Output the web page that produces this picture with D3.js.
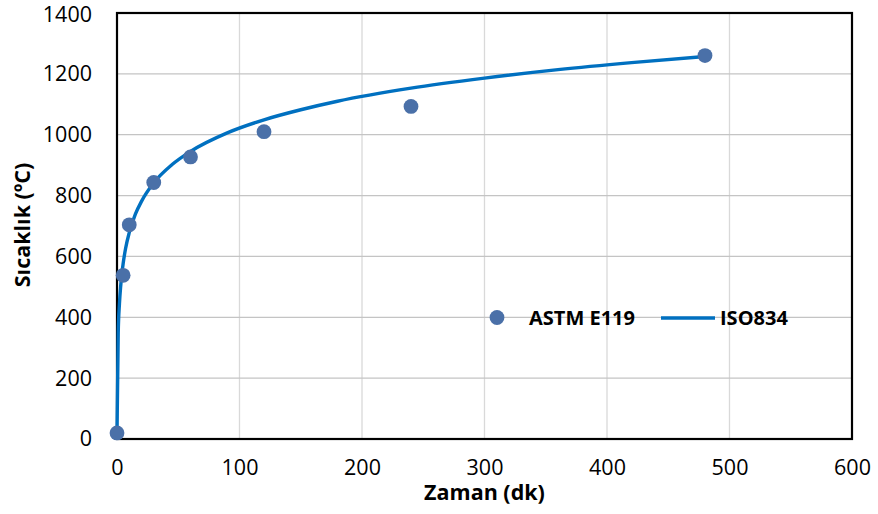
<!DOCTYPE html>
<html>
<head>
<meta charset="utf-8">
<script src="https://cdn.jsdelivr.net/npm/d3@7"></script>
<style>
  body { margin: 0; background: #fff; }
  text { font-family: "Open Sans", "Noto Sans", sans-serif; fill: #000; }
</style>
</head>
<body>
<script>
// ASTM E119 points (minutes, degC)
const astmTime = [0, 5, 10, 30, 60, 120, 240, 480];
const astmTemp = [20, 538, 704, 843, 927, 1010, 1093, 1260];

// ISO834 curve
const isoTime = [0, 1, 2, 3, 4, 5, 7, 10, 15, 20, 30, 45, 60, 90, 120, 150, 180, 240, 300, 360, 420, 480];
const isoTemp = [20, 349, 445, 502, 544, 576, 626, 678, 739, 781, 842, 902, 945, 1006, 1049, 1082, 1110, 1153, 1186, 1214, 1237, 1257];

const xTicks = [0, 100, 200, 300, 400, 500, 600];
const yTicks = [0, 200, 400, 600, 800, 1000, 1200, 1400];

const W = 878, H = 514;
const margin = { top: 13, right: 26, bottom: 75, left: 117 };
const width = W - margin.left - margin.right;
const height = H - margin.top - margin.bottom;

const svg = d3.select("body").append("svg")
  .attr("width", W)
  .attr("height", H);

const g = svg.append("g")
  .attr("transform", `translate(${margin.left},${margin.top})`);

const x = d3.scaleLinear().domain([0, 600]).range([0, width]);
const y = d3.scaleLinear().domain([0, 1400]).range([height, 0]);

// gridlines
g.selectAll(".vgrid").data(xTicks.slice(1, -1)).enter().append("line")
  .attr("x1", d => x(d)).attr("x2", d => x(d))
  .attr("y1", 0).attr("y2", height)
  .attr("stroke", "#d9d9d9").attr("stroke-width", 1.3);

g.selectAll(".hgrid").data(yTicks.slice(1, -1)).enter().append("line")
  .attr("x1", 0).attr("x2", width)
  .attr("y1", d => y(d)).attr("y2", d => y(d))
  .attr("stroke", "#c4c4c4").attr("stroke-width", 1.3);

// tick labels
const xAxis = g.append("g")
  .attr("transform", `translate(0,${height})`)
  .call(d3.axisBottom(x).tickValues(xTicks).tickFormat(d3.format("d")).tickSize(0).tickPadding(21));
xAxis.select(".domain").remove();
xAxis.selectAll("text").style("font-size", "21.5px").attr("fill", "#000");

const yAxis = g.append("g")
  .call(d3.axisLeft(y).tickValues(yTicks).tickFormat(d3.format("d")).tickSize(0).tickPadding(25));
yAxis.select(".domain").remove();
yAxis.selectAll("text").style("font-size", "21.5px").attr("fill", "#000");
// keep the top label inside the page
yAxis.selectAll("text").filter(d => d === 1400).attr("dy", "0.4em");

// frame
g.append("rect")
  .attr("width", width).attr("height", height)
  .attr("fill", "none").attr("stroke", "#000").attr("stroke-width", 2.2);

// ISO834 line
const line = d3.line()
  .x((d, i) => x(isoTime[i]))
  .y(d => y(d))
  .curve(d3.curveMonotoneX);

g.append("path")
  .datum(isoTemp)
  .attr("d", line)
  .attr("fill", "none")
  .attr("stroke", "#0070c0")
  .attr("stroke-width", 3.4);

// ASTM points
g.selectAll(".pt").data(astmTemp).enter().append("circle")
  .attr("cx", (d, i) => x(astmTime[i]))
  .attr("cy", d => y(d))
  .attr("r", 7.4)
  .attr("fill", "#4a70a8");

// axis titles
svg.append("text")
  .attr("x", margin.left + width / 2)
  .attr("y", 500)
  .attr("text-anchor", "middle")
  .style("font-size", "21.5px")
  .style("font-weight", "bold")
  .text("Zaman (dk)");

svg.append("text")
  .attr("transform", `translate(30,${margin.top + height / 2 - 1}) rotate(-90)`)
  .attr("text-anchor", "middle")
  .style("font-size", "21.5px")
  .style("font-weight", "bold")
  .text("Sıcaklık (ºC)");

// legend
const leg = svg.append("g");
leg.append("circle")
  .attr("cx", 497).attr("cy", 317.5).attr("r", 7.4).attr("fill", "#4a70a8");
leg.append("text")
  .attr("x", 529).attr("y", 325)
  .style("font-size", "20px").style("font-weight", "bold")
  .text("ASTM E119");
leg.append("line")
  .attr("x1", 661).attr("x2", 715).attr("y1", 318).attr("y2", 318)
  .attr("stroke", "#0070c0").attr("stroke-width", 3.4);
leg.append("text")
  .attr("x", 720).attr("y", 325)
  .style("font-size", "20px").style("font-weight", "bold")
  .text("ISO834");
</script>
</body>
</html>
